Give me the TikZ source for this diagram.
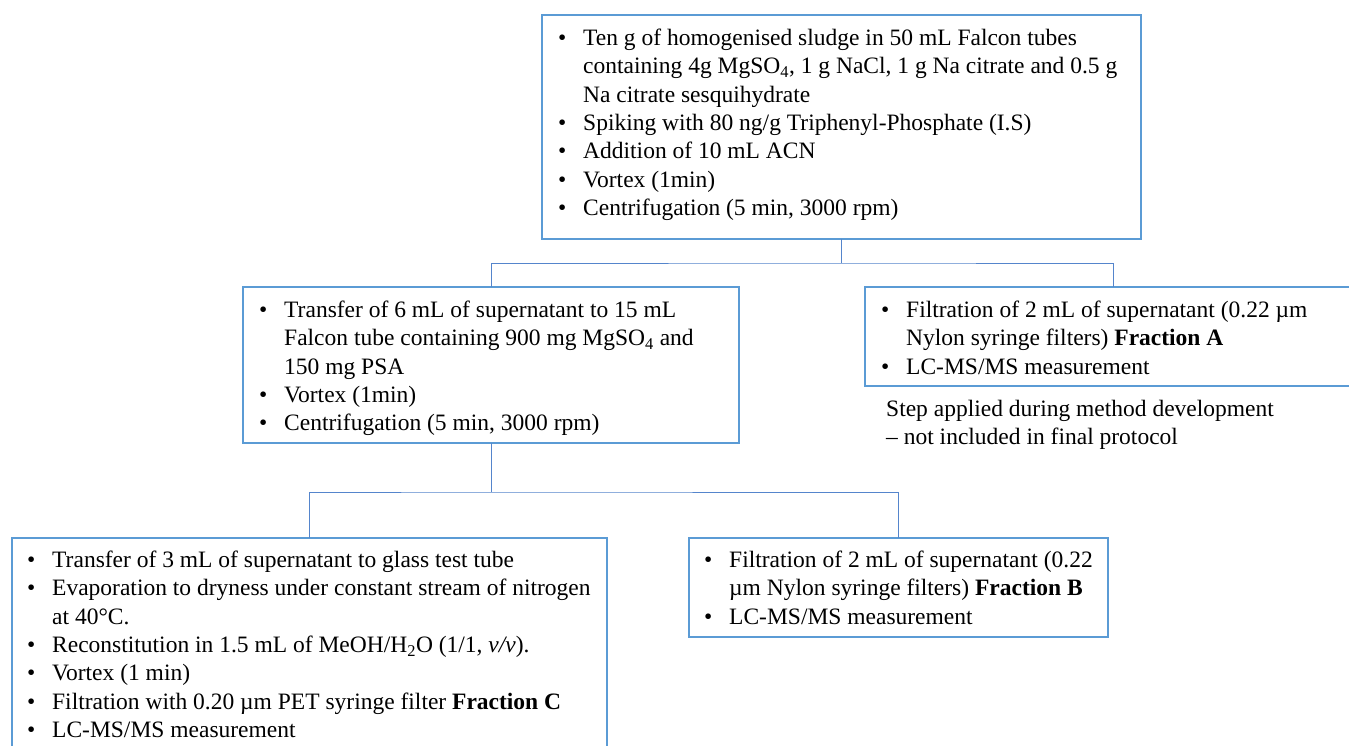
\documentclass[tikz,border=0pt]{standalone}
\usepackage{fontspec}
\setmainfont{Liberation Serif}
\definecolor{boxblue}{HTML}{5B9BD5}
\definecolor{lineblue}{HTML}{5585CC}
\newcommand\bl{\makebox[25pt][l]{\textbullet}}
\newcommand\cl{\hspace*{25pt}}
\newcommand\st{\rule{0pt}{20pt}}
\begin{document}
\begin{tikzpicture}[x=1pt,y=-1pt,
  box/.style={draw=boxblue, line width=1.8pt, inner sep=0pt, outer sep=0pt},
  conn/.style={draw=lineblue, line width=1pt},
  txt/.style={anchor=north west, inner sep=0pt, align=left, font=\fontsize{23.5}{28.4}\selectfont}]
\useasboundingbox (0,0) rectangle (1349,745);
\fill[white] (0,0) rectangle (1349,745);
% boxes
\node[box, minimum width=599pt, minimum height=224pt] (top) at (841.5,127) {};
\node[box, minimum width=496pt, minimum height=156pt] (midL) at (491,365) {};
\node[box, minimum width=496pt, minimum height=99pt] (midR) at (1113,336.5) {};
\node[box, minimum width=595pt, minimum height=222pt] (botL) at (309.5,649) {};
\node[box, minimum width=419pt, minimum height=99pt] (botR) at (898.5,587.5) {};
% connectors
\coordinate (j1) at (841.5,263);
\coordinate (j2) at (491,492);
\draw[conn] (top.south) -- (j1);
\draw[conn] (midL.north) |- (j1) -| (midR.north);
\draw[conn] (midL.south) -- (j2);
\draw[conn] (botL.north) |- (j2) -| (botR.north);
% texts
\node[txt] (t1) at (558,25) {\bl\st Ten g of homogenised sludge in 50 mL Falcon tubes\\
\cl containing 4g MgSO\textsubscript{4}, 1 g NaCl, 1 g Na citrate and 0.5 g\\
\cl Na citrate sesquihydrate\\
\bl Spiking with 80 ng/g Triphenyl-Phosphate (I.S)\\
\bl Addition of 10 mL ACN\\
\bl Vortex (1min)\\
\bl Centrifugation (5 min, 3000 rpm)};
\node[txt] (t2) at (259,297) {\bl\st Transfer of 6 mL of supernatant to 15 mL\\
\cl Falcon tube containing 900 mg MgSO\textsubscript{4} and\\
\cl 150 mg PSA\\
\bl Vortex (1min)\\
\bl Centrifugation (5 min, 3000 rpm)};
\node[txt] (t3) at (881,297) {\bl\st Filtration of 2 mL of supernatant (0.22 µm\\
\cl Nylon syringe filters) \textbf{Fraction A}\\
\bl LC-MS/MS measurement};
\node[txt] (note) at (886,396) {\st Step applied during method development\\
– not included in final protocol};
\node[txt] (t4) at (27,547) {\bl\st Transfer of 3 mL of supernatant to glass test tube\\
\bl Evaporation to dryness under constant stream of nitrogen\\
\cl at 40°C.\\
\bl Reconstitution in 1.5 mL of MeOH/H\textsubscript{2}O (1/1, \textit{v/v}).\\
\bl Vortex (1 min)\\
\bl Filtration with 0.20 µm PET syringe filter \textbf{Fraction C}\\
\bl LC-MS/MS measurement};
\node[txt] (t5) at (704,547) {\bl\st Filtration of 2 mL of supernatant (0.22\\
\cl µm Nylon syringe filters) \textbf{Fraction B}\\
\bl LC-MS/MS measurement};
\end{tikzpicture}
\end{document}
